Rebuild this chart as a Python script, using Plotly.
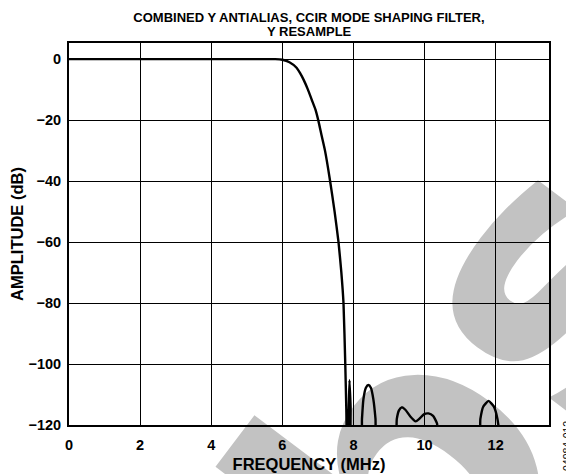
import base64
import plotly.graph_objects as go

# ---- data ----
freq_mhz = [0, 1, 2, 3, 4, 5, 5.8, 6.0, 6.2, 6.4, 6.5, 6.6, 6.72, 6.83, 6.93, 7.01,
            7.1, 7.2, 7.34, 7.47, 7.58, 7.66, 7.72, 7.77, 7.80, 7.815,
            7.86, 7.89, 7.92, 7.95,
            8.21, 8.24, 8.28, 8.35, 8.42, 8.49, 8.56, 8.62, 8.66,
            9.17, 9.22, 9.28, 9.36, 9.46, 9.6, 9.75, 9.85, 9.98, 10.11, 10.24, 10.35, 10.42,
            11.52, 11.57, 11.65, 11.8, 11.95, 12.05, 12.13]
amp_db = [0, 0, 0, 0, 0, 0, 0, -0.2, -1.0, -2.8, -4.6, -6.8, -10, -13.4, -16.5, -20,
          -24.8, -30, -39.7, -50, -60, -70, -80, -100, -115, -125,
          -118, -105.3, -114, -125,
          -125, -118, -111.6, -107.8, -106.9, -107.8, -111.6, -118, -125,
          -125, -118, -115.2, -114.2, -115, -117.2, -118.8, -118, -116.5, -116.2, -117, -119.5, -125,
          -125, -118, -114, -112.1, -114, -118, -125]

x_ticks = [0, 2, 4, 6, 8, 10, 12]
y_ticks = [-120, -100, -80, -60, -40, -20, 0]
x_range = [0, 13.5]
y_range = [-120, 5.3]

title_line1 = "COMBINED Y ANTIALIAS, CCIR MODE SHAPING FILTER,"
title_line2 = "Y RESAMPLE"
x_title = "FREQUENCY (MHz)"
y_title = "AMPLITUDE (dB)"
figure_id = "04984-012"
watermark = "Obsolete"

# ---- layout geometry (page body adds an 8 px offset) ----
OFF = 8
W, H = 574 - OFF, 474 - OFF
ML, MT = 69 - OFF, 43 - OFF
PW, PH = 480, 382
MR, MB = W - ML - PW, H - MT - PH

FONT = "Liberation Sans, Arial, sans-serif"


def px_x(cx):
    return (cx - OFF - ML) / PW


def px_y(cy):
    return (MT + PH - (cy - OFF)) / PH


# watermark as an SVG image placed underneath the grid (canvas coordinates)
wm_svg = (
    f'<svg xmlns="http://www.w3.org/2000/svg" width="{W}" height="{H}" '
    f'viewBox="{OFF} {OFF} {W} {H}">'
    f'<text x="232" y="912" transform="rotate(-53 232 912)" '
    f'font-family="DejaVu Sans" font-weight="bold" font-size="370" fill="#c2c2c2">{watermark}</text>'
    f'</svg>'
)
wm_src = "data:image/svg+xml;base64," + base64.b64encode(wm_svg.encode("utf-8")).decode("ascii")

fig = go.Figure()
fig.add_trace(go.Scatter(
    x=freq_mhz, y=amp_db, mode="lines",
    line=dict(color="black", width=2.4, shape="spline", smoothing=0.5),
    hoverinfo="x+y", showlegend=False,
))

fig.update_layout(
    width=W, height=H,
    margin=dict(l=ML, r=MR, t=MT, b=MB, pad=0, autoexpand=False),
    paper_bgcolor="white",
    plot_bgcolor="rgba(0,0,0,0)",
    title=dict(text=title_line1, x=(ML + PW / 2) / W, xanchor="center",
               y=1 - (17 - OFF) / H, yanchor="middle",
               font=dict(family=FONT, size=13, color="black", weight="bold")),
    images=[dict(source=wm_src, xref="paper", yref="paper",
                 x=-ML / PW, y=1 + MT / PH, sizex=W / PW, sizey=H / PH,
                 xanchor="left", yanchor="top", sizing="stretch", layer="below")],
    annotations=[
        dict(text=title_line2, xref="paper", yref="paper",
             x=0.5, y=px_y(31.5), xanchor="center", yanchor="middle",
             showarrow=False,
             font=dict(family=FONT, size=13, color="black", weight="bold")),
        dict(text=figure_id, xref="paper", yref="paper",
             x=px_x(567), y=px_y(446),
             xanchor="center", yanchor="middle",
             textangle=-90, showarrow=False,
             font=dict(family=FONT, size=10.5, color="black")),
    ],
)

fig.update_xaxes(
    range=x_range, tickvals=x_ticks, showgrid=True, gridcolor="black", gridwidth=1.3,
    zeroline=False, showline=True, linecolor="black", linewidth=2, mirror=True,
    ticks="", ticklabelstandoff=6, automargin=False,
    tickfont=dict(family=FONT, size=14.5, color="black", weight="bold"),
    title=dict(text=x_title, standoff=6,
               font=dict(family=FONT, size=16.5, color="black", weight="bold")),
)
fig.update_yaxes(
    range=y_range, tickvals=y_ticks, showgrid=True, gridcolor="black", gridwidth=1.3,
    zeroline=False, showline=True, linecolor="black", linewidth=2, mirror=True,
    ticks="", ticklabelstandoff=3, automargin=False,
    tickfont=dict(family=FONT, size=14.5, color="black", weight="bold"),
    title=dict(text=y_title, standoff=2,
               font=dict(family=FONT, size=16.5, color="black", weight="bold")),
)

fig.write_html("out.html")
